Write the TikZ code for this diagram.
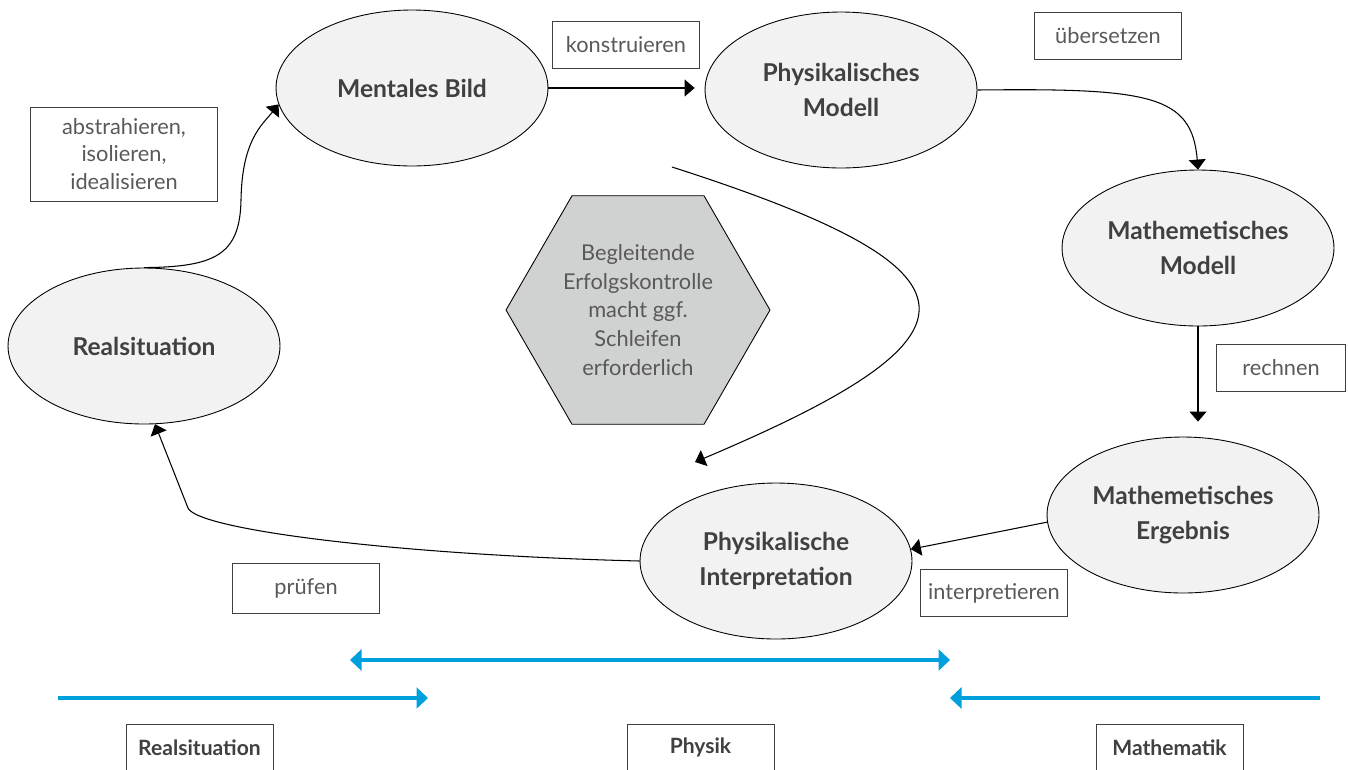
\documentclass[tikz,border=0pt]{standalone}
\usepackage{fontspec}
\setmainfont{Lato}
\usetikzlibrary{shapes.geometric,arrows.meta}

\definecolor{ellfill}{HTML}{F2F2F2}
\definecolor{hexfill}{HTML}{D0D1D1}
\definecolor{darktext}{HTML}{404040}
\definecolor{lighttext}{HTML}{595959}
\definecolor{arrowblue}{HTML}{00A0DC}

\begin{document}
\begin{tikzpicture}[x=0.02cm,y=-0.02cm,
  stage/.style={ellipse,draw,line width=0.5pt,fill=ellfill,minimum width=5.44cm,minimum height=3.12cm,inner sep=0pt,align=center,text=darktext,font=\fontsize{14}{19.5}\selectfont\bfseries},
  hexa/.style={regular polygon,regular polygon sides=6,draw,line width=0.5pt,fill=hexfill,minimum size=5.28cm,inner sep=0pt,align=center,text=lighttext,font=\fontsize{12.4}{16.4}\selectfont},
  tag/.style={draw=darktext,line width=0.5pt,minimum width=2.94cm,minimum height=0.94cm,inner sep=0pt,align=center,text=lighttext,font=\fontsize{12.4}{15.4}\selectfont},
  field/.style={draw=darktext,line width=0.5pt,minimum width=2.94cm,minimum height=0.94cm,inner sep=0pt,text=darktext,font=\fontsize{12}{14}\selectfont\bfseries},
  conn/.style={line width=0.6pt,-{Triangle[length=0.2cm,width=0.34cm]}},
  band/.style={line width=2.8pt,draw=arrowblue,-{Triangle[length=0.23cm,width=0.42cm]}}]
\clip (0,0) rectangle (1348,769);

% stages of the cycle
\node[stage] at (144,346) (real) {Realsituation};
\node[stage] at (412,88) (mental) {Mentales Bild};
\node[stage] at (841,90) (phys) {Physikalisches\\Modell};
\node[stage] at (1198,248) (mmod) {Mathemetisches\\Modell};
\node[stage] at (1183,515) (merg) {Mathemetisches\\Ergebnis};
\node[stage] at (776,561) (pint) {Physikalische\\Interpretation};
\node[hexa] at (638,310) (hex) {Begleitende\\Erfolgskontrolle\\macht ggf.\\Schleifen\\erforderlich};

% labels
\node[tag,minimum width=3.74cm,minimum height=1.88cm] at (124,154) (abstr) {abstrahieren,\\isolieren,\\idealisieren};
\node[tag] at (626,45) (konstr) {konstruieren};
\node[tag] at (1108,36) (uebers) {übersetzen};
\node[tag,minimum width=2.58cm] at (1281,368) (rechn) {rechnen};
\node[tag] at (994,593) (interp) {interpretieren};
\node[tag,minimum height=1cm] at (306,588) (pruef) {prüfen};

% fields
\node[field] at (199.5,747.5) (freal) {Realsituation};
\node[field] at (700.5,747.5) (fphys) {Physik};
\node[field] at (1169.5,747.5) (fmath) {Mathematik};

\coordinate (loopA) at (672,167);
\coordinate (loopB) at (695,462);
\coordinate (bandA) at (350,660);
\coordinate (bandB) at (950,660);
\coordinate (bandC) at (58,698);
\coordinate (bandD) at (428,698);
\coordinate (bandE) at (1320,698);
\coordinate (bandF) at (950,698);

\draw[conn] (real.north) .. controls (215,267) and (240,255) .. (241,200) .. controls (242,140) and (262,125) .. (mental.187);
\draw[conn,shorten >=0.2cm] (mental.east) -- (mental.east -| phys.west);
\draw[conn] (phys.east) .. controls (1150,88) and (1192,95) .. (mmod.north);
\draw[conn,shorten >=0.3cm] (mmod.south) -- (mmod.south |- merg.north);
\draw[conn] (merg.183) -- (pint.5);
\draw[conn] (pint.west) .. controls (400,555) and (198,530) .. (188,508) -- (real.278);
\draw[conn] (loopA) .. controls (996,271) and (996,335) .. (loopB);

\draw[band,{Triangle[length=0.23cm,width=0.42cm]}-{Triangle[length=0.23cm,width=0.42cm]}] (bandA) -- (bandB);
\draw[band] (bandC) -- (bandD);
\draw[band] (bandE) -- (bandF);
\end{tikzpicture}
\end{document}
